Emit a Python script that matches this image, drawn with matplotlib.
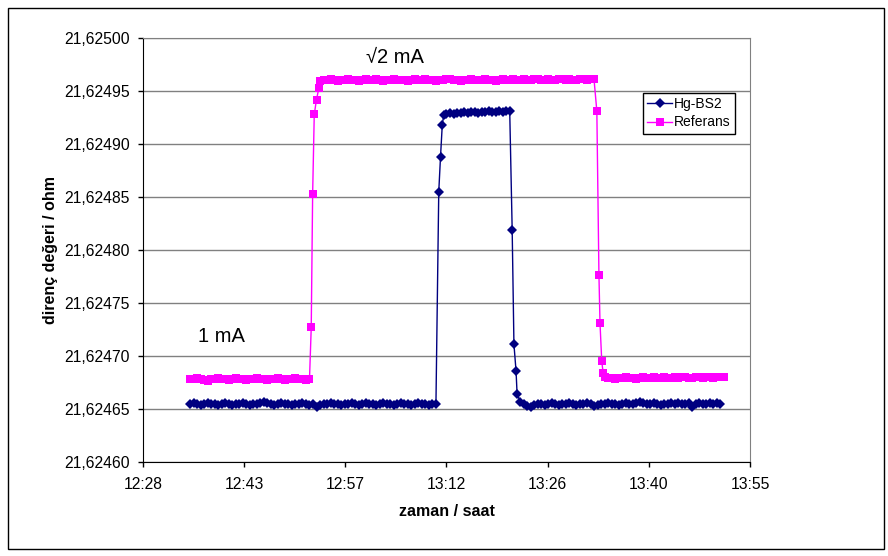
#!/usr/bin/env python3
# Hg-BS2 vs Referans resistance over time (1 mA / sqrt2 mA steps)
import matplotlib
matplotlib.use('Agg')
import matplotlib.pyplot as plt
from matplotlib.patches import Rectangle
from matplotlib.ticker import FuncFormatter

plt.rcParams['font.family'] = ['Liberation Sans', 'DejaVu Sans']

# times are minutes after 12:00, values are micro-ohm above 21,62460 ohm
hg_times = [35.5, 36, 36.5, 37, 37.5, 38, 38.5, 39, 39.5, 40, 40.5, 41, 41.5, 42, 42.5,
            43, 43.5, 44, 44.5, 45, 45.5, 46, 46.5, 47, 47.5, 48, 48.5, 49, 49.5, 50,
            50.5, 51, 51.5, 52, 52.5, 53, 53.5, 54, 54.5, 55, 55.5, 56, 56.5, 57, 57.5,
            58, 58.5, 59, 59.5, 60, 60.5, 61, 61.5, 62, 62.5, 63, 63.5, 64, 64.5, 65,
            65.5, 66, 66.5, 67, 67.5, 68, 68.5, 69, 69.5, 70, 70.5,
            70.9, 71.15, 71.4, 71.6,
            72, 72.5, 73, 73.5, 74, 74.5, 75, 75.5, 76, 76.5, 77, 77.5, 78, 78.5, 79,
            79.5, 80, 80.5, 81,
            81.35, 81.6, 81.9, 82.05,
            82.5, 83, 83.5, 84, 84.5, 85, 85.5, 86, 86.5, 87, 87.5, 88, 88.5, 89, 89.5,
            90, 90.5, 91, 91.5, 92, 92.5, 93, 93.5, 94, 94.5, 95, 95.5, 96, 96.5, 97,
            97.5, 98, 98.5, 99, 99.5, 100, 100.5, 101, 101.5, 102, 102.5, 103, 103.5,
            104, 104.5, 105, 105.5, 106, 106.5, 107, 107.5, 108, 108.5, 109, 109.5,
            110, 110.5, 111]
hg_values = [55, 56, 55, 54, 55, 56, 55, 55, 54, 55, 56, 55, 54, 55, 55,
             56, 55, 54, 55, 55, 56, 57, 56, 55, 54, 55, 56, 55, 55, 54,
             55, 55, 56, 55, 54, 55, 52, 54, 55, 55, 56, 55, 55, 54, 55,
             55, 56, 55, 54, 55, 56, 55, 55, 54, 55, 56, 55, 55, 54, 55,
             56, 55, 55, 54, 55, 56, 55, 55, 54, 55, 55,
             255, 288, 318, 327,
             328, 329, 328, 329, 329, 330, 329, 330, 330, 329, 330, 330, 331, 330, 330,
             331, 330, 331, 331,
             219, 111, 86, 64,
             57, 55, 53, 52, 54, 55, 55, 54, 55, 56, 55, 54, 55, 55, 56,
             55, 54, 55, 55, 56, 55, 53, 54, 55, 55, 56, 55, 55, 54, 55,
             56, 55, 55, 56, 57, 56, 55, 55, 56, 55, 54, 55, 55, 56,
             55, 56, 55, 55, 56, 52, 55, 56, 55, 55, 56,
             55, 56, 55]

ref_times = [35.5, 36, 36.5, 37, 37.5, 38, 38.5, 39, 39.5, 40, 40.5, 41, 41.5, 42, 42.5,
             43, 43.5, 44, 44.5, 45, 45.5, 46, 46.5, 47, 47.5, 48, 48.5, 49, 49.5, 50,
             50.5, 51, 51.5, 52, 52.5,
             52.75, 52.95, 53.18, 53.5, 53.84,
             54, 54.5, 55, 55.5, 56, 56.5, 57, 57.5, 58, 58.5, 59, 59.5, 60, 60.5, 61,
             61.5, 62, 62.5, 63, 63.5, 64, 64.5, 65, 65.5, 66, 66.5, 67, 67.5, 68, 68.5,
             69, 69.5, 70, 70.5, 71, 71.5, 72, 72.5, 73, 73.5, 74, 74.5, 75, 75.5, 76,
             76.5, 77, 77.5, 78, 78.5, 79, 79.5, 80, 80.5, 81, 81.5, 82, 82.5, 83, 83.5,
             84, 84.5, 85, 85.5, 86, 86.5, 87, 87.5, 88, 88.5, 89, 89.5, 90, 90.5, 91,
             91.5, 92, 92.5, 93,
             93.4, 93.7, 93.85, 94.1, 94.3,
             94.5, 95, 95.5, 96, 96.5, 97, 97.5, 98, 98.5, 99, 99.5, 100, 100.5, 101,
             101.5, 102, 102.5, 103, 103.5, 104, 104.5, 105, 105.5, 106, 106.5, 107,
             107.5, 108, 108.5, 109, 109.5, 110, 110.5, 111, 111.5]
ref_values = [78, 78, 79, 78, 77, 76, 78, 78, 79, 78, 78, 77, 78, 79, 78,
              78, 77, 78, 78, 79, 78, 78, 77, 78, 78, 79, 78, 77, 78, 78,
              79, 78, 78, 77, 78,
              127, 253, 328, 342, 353,
              359, 360, 360, 361, 360, 359, 360, 360, 361, 360, 360, 359, 360, 361, 360,
              360, 361, 360, 359, 360, 360, 361, 360, 360, 360, 359, 360, 361, 360, 360,
              361, 360, 360, 359, 360, 360, 361, 361, 360, 360, 359, 360, 360, 361, 360,
              360, 360, 361, 360, 360, 359, 360, 361, 360, 360, 361, 360, 360, 361, 360,
              360, 361, 361, 360, 360, 361, 360, 360, 361, 361, 360, 361, 360, 360, 361,
              361, 360, 361, 361,
              331, 176, 131, 95, 84,
              80, 79, 79, 78, 79, 79, 80, 79, 79, 78, 79, 80, 79, 79, 80,
              79, 79, 80, 79, 79, 80, 79, 80, 80, 79, 79, 80, 80, 79, 80,
              80, 79, 80, 80, 80]

x_ticks = [0.52, 0.53, 0.54, 0.55, 0.56, 0.57, 0.58]
x_tick_labels = ['12:28', '12:43', '12:57', '13:12', '13:26', '13:40', '13:55']


def to_day(times):
    return [(720 + t) / 1440.0 for t in times]


def to_ohm(vals):
    return [21.6246 + v * 1e-6 for v in vals]


fig = plt.figure(figsize=(8.88, 5.56), dpi=100)
ax = fig.add_axes([0.161, 0.169, 0.6836, 0.7626])

ax.plot(to_day(hg_times), to_ohm(hg_values), color='#000080', lw=1,
        marker='D', markersize=5.5, markeredgewidth=0, label='Hg-BS2', zorder=3)
ax.plot(to_day(ref_times), to_ohm(ref_values), color='#FF00FF', lw=1,
        marker='s', markersize=5.5, markeredgewidth=0, label='Referans', zorder=3)

ax.set_xlim(0.52, 0.58)
ax.set_ylim(21.6246, 21.6250)
ax.set_xticks(x_ticks)
ax.set_xticklabels(x_tick_labels)
ax.set_yticks([21.6246 + i * 0.00005 for i in range(9)])
ax.yaxis.set_major_formatter(FuncFormatter(lambda v, p: ('%.5f' % v).replace('.', ',')))
ax.tick_params(direction='out', length=3.5, width=1, labelsize=11.3)
ax.tick_params(axis='x', pad=7)
ax.tick_params(axis='y', pad=6)

ax.yaxis.grid(True, color='#808080', lw=1)
ax.set_axisbelow(True)
ax.spines['top'].set_color('#808080')
ax.spines['right'].set_color('#808080')

ax.set_xlabel('zaman / saat', fontsize=11.5, fontweight='bold', labelpad=9)
ax.set_ylabel('direnç değeri / ohm', fontsize=11.5, fontweight='bold', labelpad=4)

ax.text(0.415, 0.955, '√2 mA', transform=ax.transAxes, fontsize=14.5,
        ha='center', va='center')
ax.text(0.1285, 0.295, '1 mA', transform=ax.transAxes, fontsize=14.5,
        ha='center', va='center')

leg = ax.legend(loc='upper left', bbox_to_anchor=(0.8237, 0.870), borderaxespad=0,
                fontsize=10, fancybox=False, framealpha=1, edgecolor='black',
                handlelength=1.8, borderpad=0.3, labelspacing=0.3, handletextpad=0.15)
leg.get_frame().set_linewidth(1)

# outer chart frame
fig.patches.append(Rectangle((8 / 888, 7 / 556), 876 / 888, 541 / 556,
                             transform=fig.transFigure, fill=False,
                             edgecolor='black', lw=1))

fig.savefig('out.png', dpi=100)
